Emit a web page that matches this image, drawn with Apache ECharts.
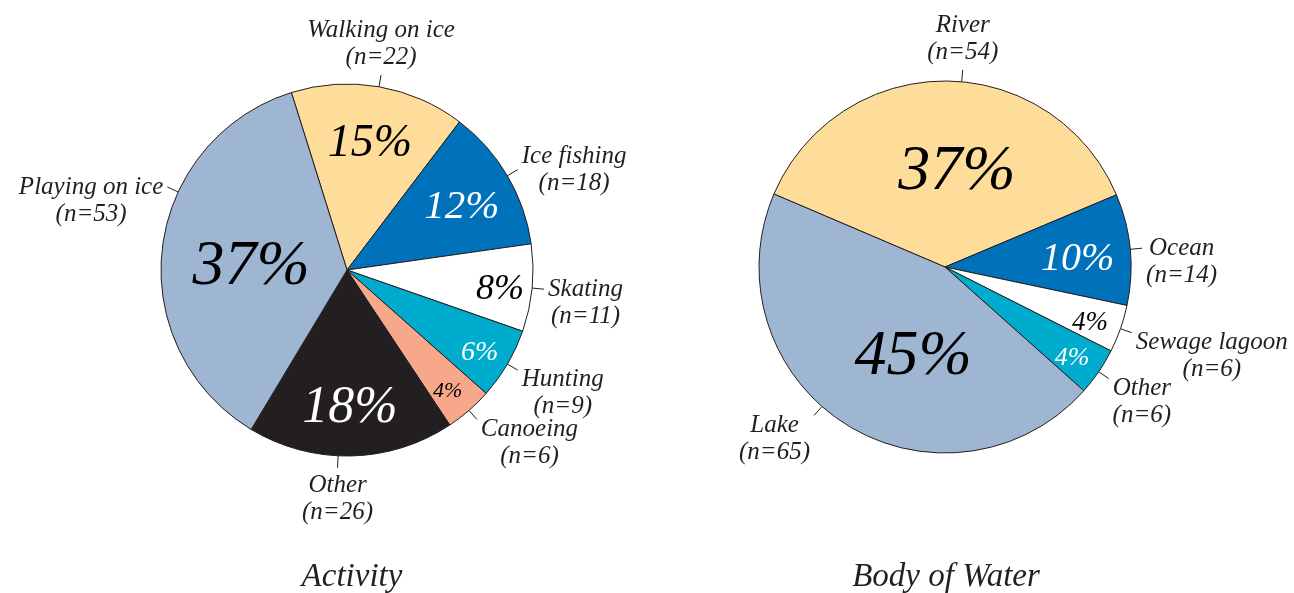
<!DOCTYPE html>
<html>
<head>
<meta charset="utf-8">
<script src="https://cdn.jsdelivr.net/npm/echarts@6/dist/echarts.min.js"></script>
<style>
  html, body { margin: 0; padding: 0; background: #fff; }
  #chart { width: 1294px; height: 593px; }
</style>
</head>
<body>
<div id="chart"></div>
<script>
// data
var activityNames = ['Walking on ice', 'Ice fishing', 'Skating', 'Hunting', 'Canoeing', 'Other', 'Playing on ice'];
var activityCounts = [22, 18, 11, 9, 6, 26, 53];
var waterNames = ['River', 'Ocean', 'Sewage lagoon', 'Other', 'Lake'];
var waterCounts = [54, 14, 6, 6, 65];
var chartTitles = ['Activity', 'Body of Water'];

// styles
var activityColors = ['#FEDC9A', '#0072BC', '#FFFFFF', '#00ACCD', '#F7A88B', '#231F20', '#9EB6D2'];
var waterColors = ['#FEDC9A', '#0072BC', '#FFFFFF', '#00ACCD', '#9EB6D2'];
var activityPctSize = [46, 41, 36, 28, 22, 52, 64];
var waterPctSize = [64, 40, 27, 26, 64];
// label nudges in degrees (name labels / percent labels), as hand placed in the original
var activityNameShift = [0, 0, 0, 0, 0, -4, -18];
var activityPctShift = [0, 0, 0, 0, 0, 0, 5];
var waterNameShift = [-5, 0, 0, 0, -9];
var waterPctShift = [-7, 0, 0, 0, 13];

var FONT = '"Liberation Serif", "Times New Roman", serif';
var INK = '#231F20';
var R = 186;
var TICK = 12;
var LINE_H = 27;
var DEG = Math.PI / 180;

function isDark(hex) {
  var n = parseInt(hex.slice(1), 16);
  var r = n >> 16, g = (n >> 8) & 255, b = n & 255;
  return 0.299 * r + 0.587 * g + 0.114 * b < 150;
}

// outside labels: short radial tick, text block hung off its end
function makeOuterLayout(center, shifts) {
  return function (p) {
    var pts = p.labelLinePoints;
    if (!pts) return {};
    var ang = Math.atan2(center[1] - pts[0][1], pts[0][0] - center[0]) + (shifts[p.dataIndex] || 0) * DEG;
    var ux = Math.cos(ang), uy = -Math.sin(ang);
    var a = [center[0] + R * ux, center[1] + R * uy];
    var b = [center[0] + (R + TICK) * ux, center[1] + (R + TICK) * uy];
    var line = [a, b];
    var gap = 4;
    if (Math.abs(ux) < 0.35) {
      return {
        x: b[0], y: b[1] + (uy < 0 ? -gap : gap),
        align: 'center', verticalAlign: uy < 0 ? 'bottom' : 'top',
        labelLinePoints: line
      };
    }
    var x = b[0] + (ux > 0 ? gap : -gap);
    var align = ux > 0 ? 'left' : 'right';
    if (uy < -0.45) {
      return { x: x, y: b[1], align: align, verticalAlign: 'middle', labelLinePoints: line };
    }
    if (uy > 0.3) {
      return { x: x, y: b[1] - 4, align: align, verticalAlign: 'top', labelLinePoints: line };
    }
    return { x: x, y: b[1] - LINE_H / 2, align: align, verticalAlign: 'top', labelLinePoints: line };
  };
}

// inside labels: rotate the library's label spot around the centre by a nudge, drop a little
function makePctLayout(center, shifts, drop) {
  return function (p) {
    var s = shifts[p.dataIndex] || 0;
    var r = p.labelRect;
    var cx = r.x + r.width / 2, cy = r.y + r.height / 2;
    var dist = Math.sqrt((cx - center[0]) * (cx - center[0]) + (cy - center[1]) * (cy - center[1]));
    var ang = Math.atan2(center[1] - cy, cx - center[0]) + s * DEG;
    return {
      x: center[0] + dist * Math.cos(ang),
      y: center[1] - dist * Math.sin(ang) + drop,
      align: 'center', verticalAlign: 'middle'
    };
  };
}

function baseSeries(names, counts, colors, center, startAngle, shifts) {
  return {
    type: 'pie',
    center: center,
    radius: [0, R],
    startAngle: startAngle,
    avoidLabelOverlap: false,
    silent: true,
    emphasis: { disabled: true },
    itemStyle: { borderColor: INK, borderWidth: 1 },
    label: {
      show: true,
      position: 'outside',
      formatter: function (p) {
        return '{t|' + p.name + '}\n{t|(n=' + p.value + ')}';
      },
      rich: {
        t: {
          fontFamily: FONT, fontStyle: 'italic', fontSize: 25,
          lineHeight: LINE_H, color: INK, align: 'center'
        }
      }
    },
    labelLine: { show: true, length: TICK, length2: 0, lineStyle: { color: INK, width: 1 } },
    labelLayout: makeOuterLayout(center, shifts),
    data: names.map(function (n, i) {
      return { name: n, value: counts[i], itemStyle: { color: colors[i] } };
    })
  };
}

// transparent overlays carrying the percentage labels, small slices pushed outward
function pctSeries(names, counts, colors, sizes, center, startAngle, shifts, ring, drop, test) {
  var total = counts.reduce(function (s, v) { return s + v; }, 0);
  return {
    type: 'pie',
    center: center,
    radius: ring,
    startAngle: startAngle,
    percentPrecision: 0,
    silent: true,
    emphasis: { disabled: true },
    itemStyle: { color: 'rgba(0,0,0,0)', borderWidth: 0 },
    labelLine: { show: false },
    label: { position: 'inside', formatter: '{d}%' },
    labelLayout: makePctLayout(center, shifts, drop),
    data: names.map(function (n, i) {
      var share = counts[i] / total * 100;
      return {
        name: n, value: counts[i],
        label: {
          show: test(share),
          fontFamily: FONT, fontStyle: 'italic', fontSize: sizes[i],
          color: isDark(colors[i]) ? '#FFFFFF' : '#000000'
        }
      };
    })
  };
}

function pieSet(names, counts, colors, sizes, center, startAngle, nameShift, pctShift) {
  return [
    baseSeries(names, counts, colors, center, startAngle, nameShift),
    pctSeries(names, counts, colors, sizes, center, startAngle, pctShift, [0, R], 0, function (s) { return s >= 30; }),
    pctSeries(names, counts, colors, sizes, center, startAngle, pctShift, [0.4 * R, R], 5, function (s) { return s >= 9 && s < 30; }),
    pctSeries(names, counts, colors, sizes, center, startAngle, pctShift, [0.62 * R, R], 5, function (s) { return s < 9; })
  ];
}

var chart = echarts.init(document.getElementById('chart'));
chart.setOption({
  backgroundColor: '#fff',
  animation: false,
  title: [
    { text: chartTitles[0], left: 347, top: 556, textAlign: 'center',
      textStyle: { fontFamily: FONT, fontStyle: 'italic', fontWeight: 'normal', fontSize: 33, color: INK } },
    { text: chartTitles[1], left: 941, top: 556, textAlign: 'center',
      textStyle: { fontFamily: FONT, fontStyle: 'italic', fontWeight: 'normal', fontSize: 33, color: INK } }
  ],
  series: []
    .concat(pieSet(activityNames, activityCounts, activityColors, activityPctSize, [347, 270], 107.4, activityNameShift, activityPctShift))
    .concat(pieSet(waterNames, waterCounts, waterColors, waterPctSize, [945, 267], 156.9, waterNameShift, waterPctShift))
});

window.addEventListener('resize', function () {
  chart.resize();
});
</script>
</body>
</html>
